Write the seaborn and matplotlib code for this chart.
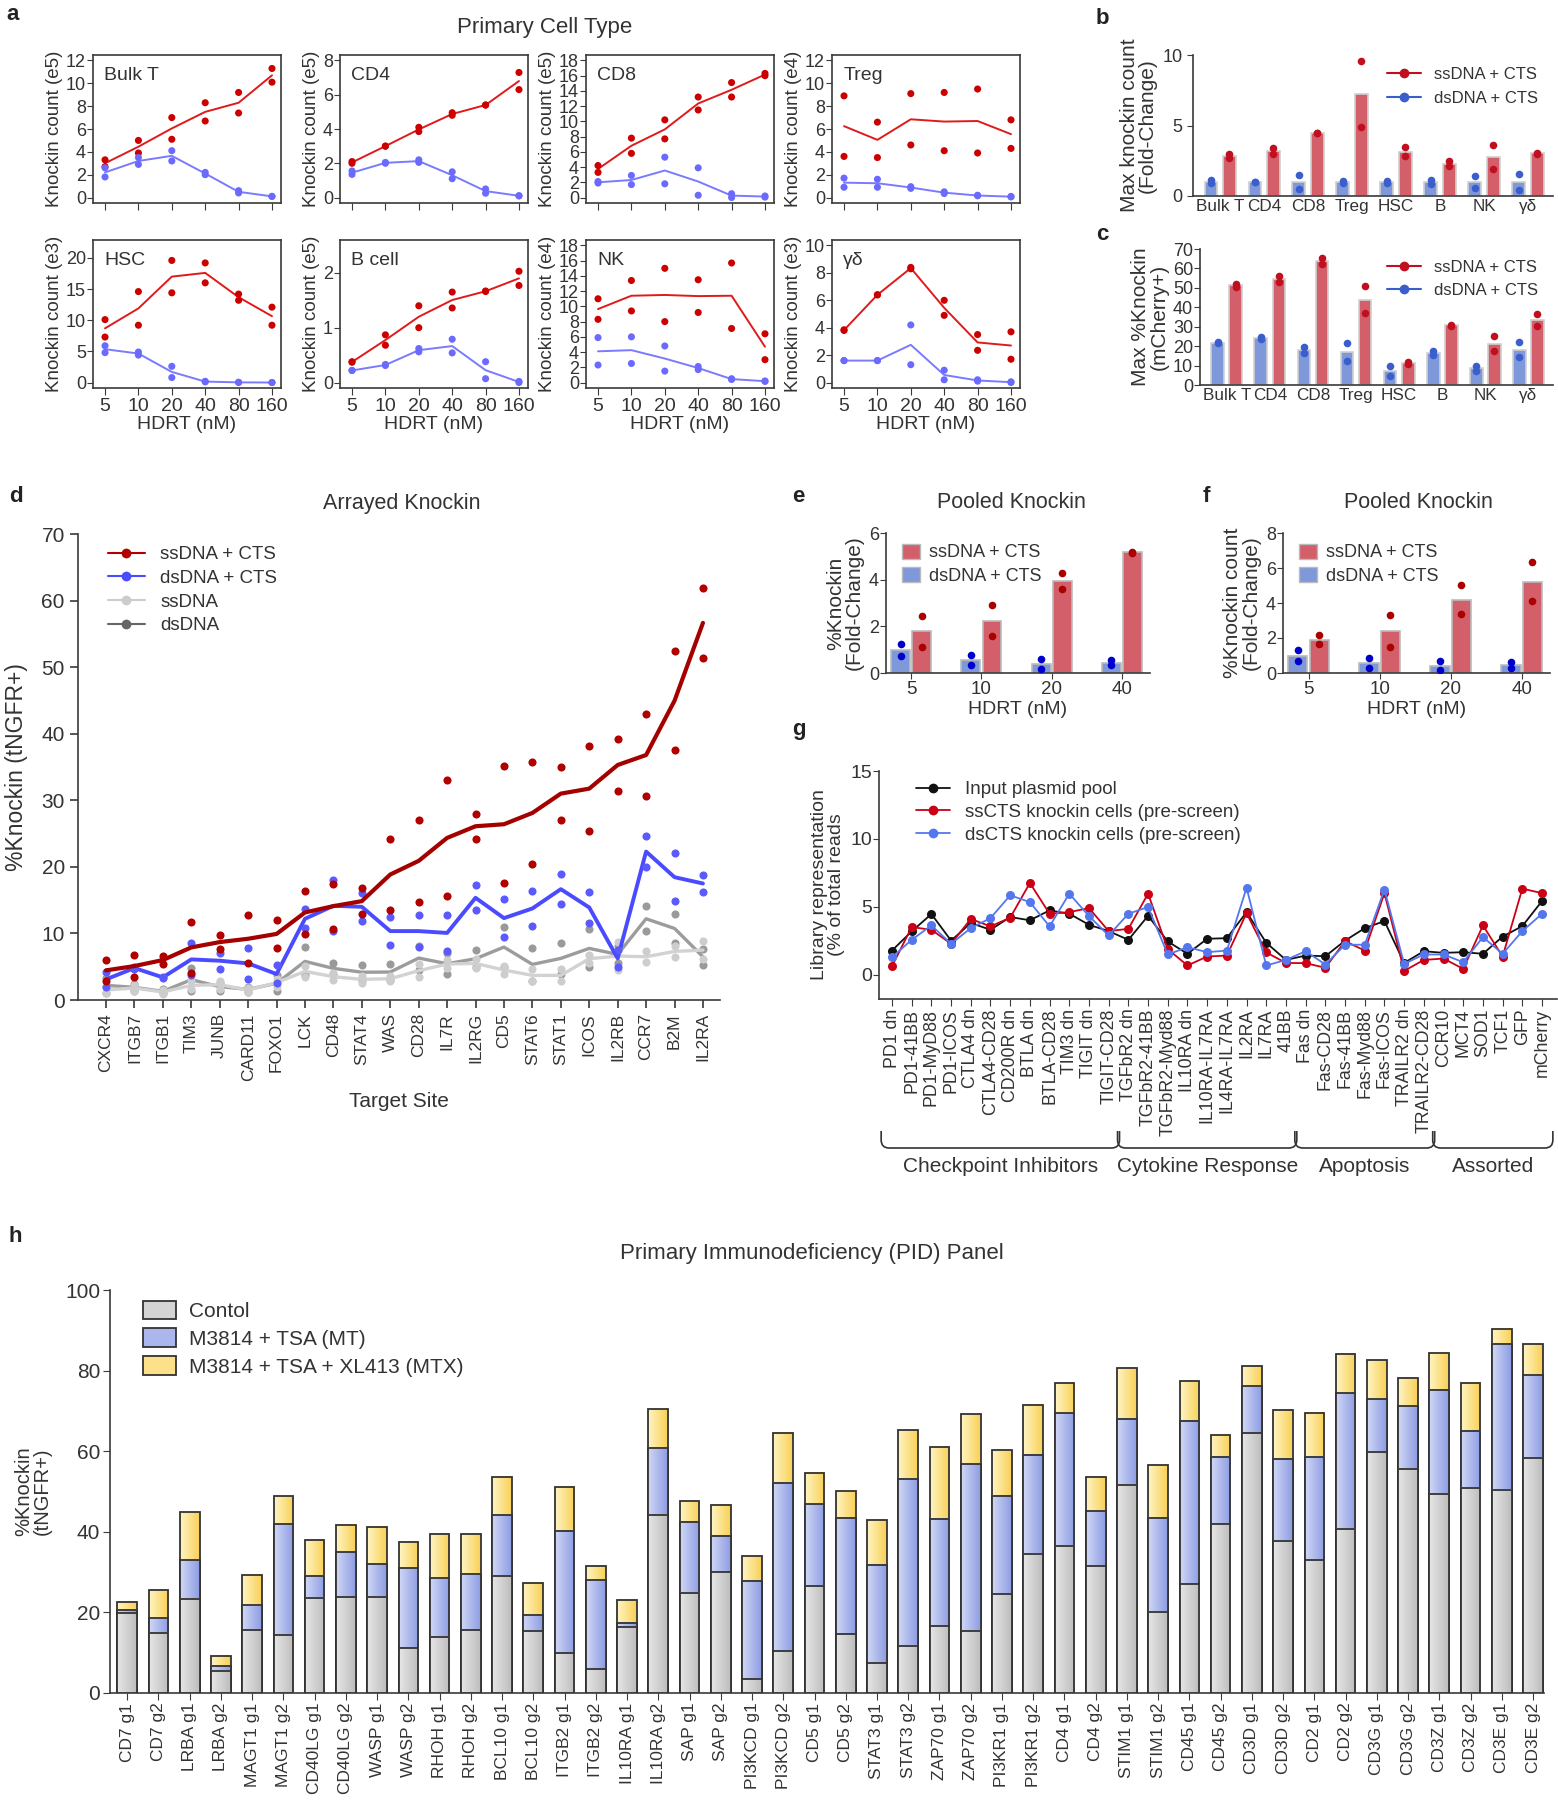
import numpy as np
import pandas as pd
import seaborn as sns
import matplotlib.pyplot as plt
from matplotlib import font_manager
from matplotlib.colors import LinearSegmentedColormap
from matplotlib.lines import Line2D
from matplotlib.patches import Patch, PathPatch
from matplotlib.path import Path

# ---------------- data ----------------
# a: knockin count vs HDRT dose, two replicates per dose
hdrt = ['5', '10', '20', '40', '80', '160']
cell_types = ['Bulk T', 'CD4', 'CD8', 'Treg', 'HSC', 'B cell', 'NK', 'γδ']
count_exp = ['e5', 'e5', 'e5', 'e4', 'e3', 'e5', 'e4', 'e3']
count_max = [12, 8, 18, 12, 22, 2.5, 18, 10]
count_step = [2, 2, 2, 2, 5, 1, 2, 2]
a_ss_r1 = [[3.3, 5.0, 7.0, 8.3, 9.2, 11.3],
           [2.1, 3.0, 4.1, 4.95, 5.4, 7.3],
           [4.2, 7.8, 10.2, 13.2, 15.1, 16.3],
           [8.9, 6.6, 9.1, 9.2, 9.5, 6.8],
           [10.1, 14.6, 19.6, 19.2, 14.2, 12.1],
           [0.38, 0.87, 1.4, 1.65, 1.67, 2.03],
           [11.0, 13.4, 15.0, 13.5, 15.7, 6.4],
           [3.85, 6.4, 8.4, 6.0, 3.5, 3.7]]
a_ss_r2 = [[2.7, 3.9, 5.1, 6.7, 7.4, 10.1],
           [2.0, 3.0, 3.85, 4.8, 5.4, 6.3],
           [3.3, 5.8, 7.7, 11.5, 13.2, 16.0],
           [3.6, 3.5, 4.6, 4.1, 3.9, 4.3],
           [7.3, 9.2, 14.4, 16.0, 13.2, 9.2],
           [0.37, 0.68, 1.0, 1.36, 1.66, 1.77],
           [8.3, 9.4, 8.0, 9.2, 7.1, 3.0],
           [3.8, 6.4, 8.3, 4.9, 2.35, 1.7]]
a_ds_r1 = [[2.6, 3.5, 4.1, 2.2, 0.6, 0.1],
           [1.55, 2.0, 2.2, 1.5, 0.5, 0.1],
           [2.1, 2.9, 5.3, 3.9, 0.5, 0.2],
           [1.7, 1.6, 0.95, 0.5, 0.2, 0.1],
           [5.9, 4.9, 2.6, 0.2, 0.05, 0.0],
           [0.22, 0.33, 0.62, 0.79, 0.38, 0.02],
           [5.9, 6.0, 4.8, 2.1, 0.5, 0.2],
           [1.6, 1.6, 4.2, 0.9, 0.2, 0.05]]
a_ds_r2 = [[1.8, 2.9, 3.2, 2.0, 0.4, 0.1],
           [1.35, 2.05, 2.05, 1.1, 0.25, 0.1],
           [1.9, 1.7, 1.8, 0.3, 0.0, 0.05],
           [0.9, 0.9, 0.8, 0.35, 0.15, 0.05],
           [4.8, 4.4, 0.8, 0.1, 0.0, 0.0],
           [0.22, 0.31, 0.56, 0.54, 0.07, 0.0],
           [2.3, 2.5, 1.5, 1.7, 0.4, 0.15],
           [1.6, 1.6, 1.3, 0.2, 0.1, 0.0]]

# b, c: max fold-change / max %knockin per cell type
bc_cells = ['Bulk T', 'CD4', 'CD8', 'Treg', 'HSC', 'B', 'NK', 'γδ']
b_ds = [[1.1, 0.9], [1.0, 1.0], [1.5, 0.5], [1.05, 0.95], [1.05, 0.95], [1.15, 0.85], [1.45, 0.55], [1.55, 0.45]]
b_ss = [[3.0, 2.7], [3.4, 2.95], [4.5, 4.45], [9.6, 4.9], [3.45, 2.85], [2.45, 2.15], [3.6, 1.9], [3.05, 3.0]]
c_ds = [[22, 21.5], [24.5, 23.5], [19.5, 16.5], [21.5, 12.5], [10, 4.5], [17.5, 15.5], [10, 7], [22, 14.5]]
c_ss = [[52, 50.5], [56, 53], [65.5, 62.5], [51, 37], [12, 11], [31, 30.5], [25, 17.5], [36.5, 30.5]]

# d: arrayed knockin
d_targets = ['CXCR4', 'ITGB7', 'ITGB1', 'TIM3', 'JUNB', 'CARD11', 'FOXO1', 'LCK', 'CD48', 'STAT4', 'WAS',
             'CD28', 'IL7R', 'IL2RG', 'CD5', 'STAT6', 'STAT1', 'ICOS', 'IL2RB', 'CCR7', 'B2M', 'IL2RA']
d_ss_cts_r1 = [6.0, 6.8, 6.6, 11.7, 9.7, 12.8, 12.05, 16.4, 17.5, 16.8, 24.2, 27.1, 33.1, 28.0, 35.2, 35.7, 35.0, 38.1, 39.2, 43.0, 52.4, 61.9]
d_ss_cts_r2 = [2.9, 3.4, 5.4, 4.1, 7.7, 5.6, 7.8, 9.9, 10.7, 12.9, 13.5, 14.7, 15.6, 24.2, 17.6, 20.5, 27.0, 25.4, 31.4, 30.6, 37.5, 51.4]
d_ds_cts_r1 = [4.2, 5.0, 3.5, 8.5, 7.1, 7.8, 5.2, 13.6, 18.0, 16.1, 12.5, 12.7, 12.75, 17.2, 15.1, 16.4, 18.9, 16.2, 7.5, 24.6, 22.1, 18.8]
d_ds_cts_r2 = [2.0, 4.6, 3.3, 3.7, 4.7, 3.2, 2.6, 10.8, 10.3, 11.9, 8.2, 8.0, 7.4, 13.5, 9.5, 11.1, 14.4, 11.6, 5.0, 20.0, 14.8, 16.2]
d_ss_r1 = [2.0, 2.2, 1.5, 2.8, 2.9, 1.8, 3.2, 5.1, 4.0, 3.6, 3.6, 5.4, 6.0, 6.2, 5.1, 4.6, 4.6, 6.8, 8.7, 7.3, 8.1, 8.9]
d_ss_r2 = [1.0, 1.4, 0.9, 1.6, 1.7, 1.2, 2.0, 3.5, 3.0, 2.6, 2.8, 3.4, 4.8, 4.8, 3.9, 2.8, 2.8, 5.6, 4.5, 5.7, 6.5, 6.1]
d_ds_r1 = [3.3, 2.4, 1.6, 4.8, 2.6, 2.0, 3.7, 7.9, 5.6, 5.3, 5.4, 8.1, 7.0, 7.5, 11.0, 7.8, 8.6, 10.6, 8.1, 14.1, 12.9, 7.7]
d_ds_r2 = [1.1, 1.4, 1.0, 1.3, 1.4, 1.2, 1.3, 3.7, 3.9, 3.05, 3.0, 4.5, 3.9, 4.9, 4.9, 2.9, 3.9, 4.9, 5.6, 10.3, 8.6, 5.3]

# e, f: pooled knockin fold-change
ef_hdrt = ['5', '10', '20', '40']
e_ds = [[1.25, 0.75], [0.77, 0.33], [0.6, 0.18], [0.33, 0.55]]
e_ss = [[2.45, 1.12], [2.9, 1.6], [4.3, 3.6], [5.15, 5.2]]
f_ds = [[1.3, 0.68], [0.85, 0.28], [0.67, 0.17], [0.65, 0.27]]
f_ss = [[2.15, 1.65], [3.3, 1.5], [5.05, 3.35], [6.35, 4.1]]

# g: library representation
g_targets = ['PD1 dn', 'PD1-41BB', 'PD1-MyD88', 'PD1-ICOS', 'CTLA4 dn', 'CTLA4-CD28', 'CD200R dn', 'BTLA dn',
             'BTLA-CD28', 'TIM3 dn', 'TIGIT dn', 'TIGIT-CD28', 'TGFbR2 dn', 'TGFbR2-41BB', 'TGFbR2-Myd88',
             'IL10RA dn', 'IL10RA-IL7RA', 'IL4RA-IL7RA', 'IL2RA', 'IL7RA', '41BB', 'Fas dn', 'Fas-CD28',
             'Fas-41BB', 'Fas-Myd88', 'Fas-ICOS', 'TRAILR2 dn', 'TRAILR2-CD28', 'CCR10', 'MCT4', 'SOD1',
             'TCF1', 'GFP', 'mCherry']
g_groups = ['Checkpoint Inhibitors', 'Cytokine Response', 'Apoptosis', 'Assorted']
g_group_sizes = [12, 9, 7, 6]
g_input = [1.77, 3.18, 4.46, 2.5, 3.8, 3.3, 4.24, 4.0, 4.73, 4.48, 3.67, 3.2, 2.56, 4.33, 2.44, 1.53, 2.64,
           2.68, 4.6, 2.34, 1.08, 1.4, 1.35, 2.5, 3.42, 3.94, 0.86, 1.72, 1.6, 1.65, 1.53, 2.8, 3.57, 5.42]
g_ss = [0.62, 3.5, 3.3, 2.27, 4.1, 3.55, 4.19, 6.75, 4.48, 4.6, 4.9, 3.2, 3.37, 5.96, 1.87, 0.67, 1.33,
        1.4, 4.53, 1.63, 0.86, 0.84, 0.5, 2.46, 1.77, 6.0, 0.27, 1.08, 1.18, 0.42, 3.62, 1.33, 6.33, 6.0]
g_ds = [1.28, 2.56, 3.62, 2.27, 3.42, 4.16, 5.84, 5.34, 3.55, 5.96, 4.31, 2.88, 4.48, 4.98, 1.48, 2.02, 1.65,
        1.77, 6.4, 0.67, 1.08, 1.72, 0.74, 2.2, 2.2, 6.26, 0.79, 1.48, 1.48, 0.91, 2.76, 1.53, 3.2, 4.48]

# h: PID panel
h_guides = ['CD7 g1', 'CD7 g2', 'LRBA g1', 'LRBA g2', 'MAGT1 g1', 'MAGT1 g2', 'CD40LG g1', 'CD40LG g2',
            'WASP g1', 'WASP g2', 'RHOH g1', 'RHOH g2', 'BCL10 g1', 'BCL10 g2', 'ITGB2 g1', 'ITGB2 g2',
            'IL10RA g1', 'IL10RA g2', 'SAP g1', 'SAP g2', 'PI3KCD g1', 'PI3KCD g2', 'CD5 g1', 'CD5 g2',
            'STAT3 g1', 'STAT3 g2', 'ZAP70 g1', 'ZAP70 g2', 'PI3KR1 g1', 'PI3KR1 g2', 'CD4 g1', 'CD4 g2',
            'STIM1 g1', 'STIM1 g2', 'CD45 g1', 'CD45 g2', 'CD3D g1', 'CD3D g2', 'CD2 g1', 'CD2 g2',
            'CD3G g1', 'CD3G g2', 'CD3Z g1', 'CD3Z g2', 'CD3E g1', 'CD3E g2']
h_ctrl = [19.8, 14.9, 23.4, 5.5, 15.6, 14.5, 23.6, 23.8, 23.9, 11.1, 14.0, 15.6, 29.1, 15.3, 9.9, 5.9,
          16.3, 44.2, 24.9, 30.0, 3.4, 10.3, 26.6, 14.6, 7.4, 11.7, 16.6, 15.4, 24.5, 34.6, 36.6, 31.4,
          51.7, 20.1, 27.0, 41.9, 64.5, 37.8, 32.9, 40.8, 59.9, 55.6, 49.5, 50.9, 50.4, 58.4]
h_mt = [20.6, 18.6, 32.9, 6.7, 21.8, 41.9, 29.1, 34.9, 32.0, 30.9, 28.5, 29.6, 44.1, 19.3, 40.3, 28.0,
        17.4, 60.8, 42.5, 39.0, 27.9, 52.2, 46.8, 43.5, 31.8, 53.2, 43.3, 56.8, 49.0, 59.1, 69.4, 45.1,
        68.0, 43.5, 67.5, 58.6, 76.1, 58.1, 58.6, 74.4, 72.9, 71.2, 75.3, 65.1, 86.7, 78.8]
h_mtx = [22.7, 25.6, 44.8, 9.2, 29.4, 48.8, 38.0, 41.6, 41.2, 37.5, 39.5, 39.5, 53.6, 27.4, 51.2, 31.6,
         23.2, 70.4, 47.6, 46.7, 33.9, 64.6, 54.7, 50.1, 43.0, 65.2, 61.1, 69.2, 60.2, 71.5, 76.9, 53.6,
         80.7, 56.5, 77.4, 64.1, 81.2, 70.3, 69.5, 84.2, 82.6, 78.2, 84.3, 77.0, 90.4, 86.7]

# ---------------- style ----------------
sns.set_style('ticks')
plt.rcParams['font.family'] = ['Liberation Sans', 'DejaVu Sans']
plt.rcParams['axes.edgecolor'] = '#3a3a3a'
plt.rcParams['axes.linewidth'] = 1.2
plt.rcParams['xtick.color'] = '#3a3a3a'
plt.rcParams['ytick.color'] = '#3a3a3a'
plt.rcParams['text.color'] = '#333333'
plt.rcParams['axes.labelcolor'] = '#333333'
plt.rcParams['xtick.labelcolor'] = '#333333'
plt.rcParams['ytick.labelcolor'] = '#333333'

installed = {f.name for f in font_manager.fontManager.ttflist}
NARROW = 'Liberation Sans Narrow' if 'Liberation Sans Narrow' in installed else 'Liberation Sans'

W, H = 1558, 1800
fig = plt.figure(figsize=(W / 100, H / 100), dpi=100)


def px_axes(left, top, right, bottom):
    return fig.add_axes([left / W, 1 - bottom / H, (right - left) / W, (bottom - top) / H])


BAR_BLUE, BAR_RED = '#7f98da', '#d35f6a'

# ---------------- a ----------------
a_lefts = [93, 340, 586, 832]
a_rows = [(55, 203), (240, 388)]
for i, name in enumerate(cell_types):
    top, bottom = a_rows[i // 4]
    left = a_lefts[i % 4]
    ax = px_axes(left, top, left + 188, bottom)
    reps = [('ss', a_ss_r1[i]), ('ss', a_ss_r2[i]), ('ds', a_ds_r1[i]), ('ds', a_ds_r2[i])]
    df = pd.DataFrame([(k, j, v) for k, vals in reps for j, v in enumerate(vals)],
                      columns=['kind', 'pos', 'val'])
    sns.lineplot(data=df, x='pos', y='val', hue='kind', palette={'ss': '#e01a1a', 'ds': '#7a7aff'},
                 estimator='mean', errorbar=None, legend=False, lw=1.4, ax=ax)
    sns.scatterplot(data=df, x='pos', y='val', hue='kind', palette={'ss': '#cc0000', 'ds': '#6a6aff'},
                    s=26, linewidth=0, legend=False, ax=ax, zorder=3)
    ymax = count_max[i]
    ax.set_ylim(-0.04 * ymax, 1.04 * ymax)
    ax.set_yticks(np.arange(0, ymax + 1e-9, count_step[i]))
    ax.set_xlim(-0.36, 5.27)
    ax.set_xticks(range(6))
    if i // 4 == 1:
        ax.set_xticklabels(hdrt)
        ax.set_xlabel('HDRT (nM)', fontsize=14, labelpad=1)
    else:
        ax.set_xticklabels([])
        ax.set_xlabel('')
    ax.set_ylabel(f'Knockin count ({count_exp[i]})', fontsize=13.5, labelpad=2)
    ax.tick_params(axis='y', labelsize=13, length=4, pad=1)
    ax.tick_params(axis='x', labelsize=14, length=5, pad=2)
    ax.text(0.06, 0.92, name, transform=ax.transAxes, fontsize=14, va='top', ha='left')


# ---------------- helpers for dodged bars ----------------
def dodge_bars(ax, cats, ds_reps, ss_reps, width, gap, dot_blue, dot_red, dot_size, edge):
    rows = []
    for c, ds, ss in zip(cats, ds_reps, ss_reps):
        rows += [(c, 'dsDNA + CTS', v) for v in ds]
        rows += [(c, 'ssDNA + CTS', v) for v in ss]
    df = pd.DataFrame(rows, columns=['cat', 'kind', 'val'])
    sns.barplot(data=df, x='cat', y='val', hue='kind', order=cats,
                hue_order=['dsDNA + CTS', 'ssDNA + CTS'], palette=[BAR_BLUE, BAR_RED],
                width=width, gap=gap, errorbar=None, saturation=1, edgecolor=edge,
                linewidth=1.2, legend=False, ax=ax)
    off = width / 4
    pos = {c: k for k, c in enumerate(cats)}
    for sign, kind, col in [(-1, 'dsDNA + CTS', dot_blue), (1, 'ssDNA + CTS', dot_red)]:
        sub = df[df['kind'] == kind]
        ax.scatter(sub['cat'].map(pos) + sign * off, sub['val'], s=dot_size, color=col,
                   zorder=4, linewidths=0)
    ax.set_xlabel('')
    sns.despine(ax=ax)


line_handles = [Line2D([], [], color='#c01020', marker='o', lw=1.5, ms=6),
                Line2D([], [], color='#3a5fcd', marker='o', lw=1.5, ms=6)]

# ---------------- b ----------------
ax = px_axes(1193, 55, 1553, 196)
dodge_bars(ax, bc_cells, b_ds, b_ss, 0.84, 0.3, '#3a5fcd', '#c01020', 30, '#d0d0d0')
ax.set_xlim(-0.62, 7.57)
ax.set_ylim(0, 10)
ax.set_yticks([0, 5, 10])
ax.set_ylabel('Max knockin count\n(Fold-Change)', fontsize=15, linespacing=0.95, labelpad=4)
ax.tick_params(axis='x', length=0, labelsize=12.3, pad=2)
ax.tick_params(axis='y', length=4, labelsize=13)
ax.legend(line_handles, ['ssDNA + CTS', 'dsDNA + CTS'], loc='upper right', bbox_to_anchor=(1.0, 1.02),
          frameon=False, fontsize=12, handlelength=2.0, labelspacing=0.5)

# ---------------- c ----------------
ax = px_axes(1200, 249, 1553, 385)
dodge_bars(ax, bc_cells, c_ds, c_ss, 0.84, 0.3, '#3a5fcd', '#c01020', 30, '#d0d0d0')
ax.set_xlim(-0.62, 7.57)
ax.set_ylim(0, 70)
ax.set_yticks(range(0, 71, 10))
ax.set_ylabel('Max %Knockin\n(mCherry+)', fontsize=15, linespacing=0.95, labelpad=3)
ax.tick_params(axis='x', length=0, labelsize=12.3, pad=2)
ax.tick_params(axis='y', length=4, labelsize=13, pad=1)
ax.legend(line_handles, ['ssDNA + CTS', 'dsDNA + CTS'], loc='upper right', bbox_to_anchor=(1.0, 1.03),
          frameon=False, fontsize=12, handlelength=2.0, labelspacing=0.5)

# ---------------- d ----------------
ax = px_axes(78, 534, 720, 1000)
d_series = [('dsDNA', d_ds_r1, d_ds_r2, '#9c9c9c', '#9a9a9a', 2.4),
            ('ssDNA', d_ss_r1, d_ss_r2, '#d2d2d2', '#cdcdcd', 2.4),
            ('dsDNA + CTS', d_ds_cts_r1, d_ds_cts_r2, '#4a4aff', '#5a5aff', 2.8),
            ('ssDNA + CTS', d_ss_cts_r1, d_ss_cts_r2, '#a50000', '#b00000', 3.0)]
for z, (label, r1, r2, lc, pc, lw) in enumerate(d_series):
    df = pd.DataFrame({'pos': list(range(len(d_targets))) * 2, 'val': r1 + r2})
    sns.lineplot(data=df, x='pos', y='val', estimator='mean', errorbar=None, color=lc, lw=lw,
                 ax=ax, zorder=2 + z)
    sns.scatterplot(data=df, x='pos', y='val', color=pc, s=34, linewidth=0, ax=ax, zorder=2 + z)
ax.set_xlim(-0.985, 21.6)
ax.set_ylim(0, 70)
ax.set_xticks(range(len(d_targets)))
ax.set_xticklabels(d_targets, rotation=90)
ax.set_yticks(range(0, 71, 10))
ax.tick_params(axis='y', labelsize=15, length=6, width=1.2)
ax.tick_params(axis='x', labelsize=12.5, length=6, width=1.2)
ax.set_xlabel('Target Site', fontsize=15, labelpad=8)
ax.set_ylabel('%Knockin (tNGFR+)', fontsize=16.5, labelpad=10)
sns.despine(ax=ax)
d_handles = [Line2D([], [], color='#b00000', marker='o', lw=1.5, ms=6),
             Line2D([], [], color='#4a4aff', marker='o', lw=1.5, ms=6),
             Line2D([], [], color='#cccccc', marker='o', lw=1.5, ms=6),
             Line2D([], [], color='#666666', marker='o', lw=1.5, ms=6)]
ax.legend(d_handles, ['ssDNA + CTS', 'dsDNA + CTS', 'ssDNA', 'dsDNA'], loc='upper left',
          bbox_to_anchor=(0.02, 1.01), frameon=False, fontsize=13.5, handlelength=2.0,
          labelspacing=0.35)

# ---------------- e, f ----------------
sq_handles = [Patch(facecolor=BAR_RED, edgecolor='#bbbbbb'), Patch(facecolor=BAR_BLUE, edgecolor='#bbbbbb')]
for (l, r), ds, ss, ymax, ylab in [((886, 1150), e_ds, e_ss, 6, '%Knockin\n(Fold-Change)'),
                                   ((1283, 1550), f_ds, f_ss, 8, '%Knockin count\n(Fold-Change)')]:
    ax = px_axes(l, 533, r, 673)
    dodge_bars(ax, ef_hdrt, ds, ss, 0.6, 0.1, '#0000cc', '#aa0000', 30, '#bbbbbb')
    ax.set_xlim(-0.36, 3.4)
    ax.set_ylim(0, ymax)
    ax.set_yticks(range(0, ymax + 1, 2))
    ax.set_xlabel('HDRT (nM)', fontsize=14, labelpad=2)
    ax.set_ylabel(ylab, fontsize=15, linespacing=0.95, labelpad=4)
    ax.tick_params(axis='x', length=4, labelsize=13.5, pad=2)
    ax.tick_params(axis='y', length=4, labelsize=13, pad=1)
    ax.legend(sq_handles, ['ssDNA + CTS', 'dsDNA + CTS'], loc='upper left', bbox_to_anchor=(0.0, 1.04),
              frameon=False, fontsize=13, handlelength=1.0, handleheight=0.9, labelspacing=0.3,
              handletextpad=0.5)

# ---------------- g ----------------
ax = px_axes(879, 771, 1557, 999)
gx = list(range(len(g_targets)))
for vals, col in [(g_input, '#111111'), (g_ss, '#cc0015'), (g_ds, '#5577ee')]:
    sns.lineplot(x=gx, y=vals, color=col, lw=1.3, marker='o', markersize=6.5, markeredgewidth=0, ax=ax)
g_xlim = (-0.66, 33.76)
ax.set_xlim(*g_xlim)
ax.set_ylim(-1.8, 15)
ax.set_yticks([0, 5, 10, 15])
ax.set_xticks(gx)
ax.set_xticklabels(g_targets, rotation=90)
ax.tick_params(axis='x', labelsize=12.8, length=5, pad=2)
ax.tick_params(axis='y', length=4, pad=1)
for t in ax.get_yticklabels():
    t.set_fontfamily(NARROW)
    t.set_fontsize(14)
ax.set_ylabel('Library representation\n(% of total reads', fontsize=14, linespacing=0.95, labelpad=4)
sns.despine(ax=ax)
g_handles = [Line2D([], [], color='#111111', marker='o', lw=1.3, ms=6),
             Line2D([], [], color='#cc0015', marker='o', lw=1.3, ms=6),
             Line2D([], [], color='#5577ee', marker='o', lw=1.3, ms=6)]
ax.legend(g_handles, ['Input plasmid pool', 'ssCTS knockin cells (pre-screen)', 'dsCTS knockin cells (pre-screen)'],
          loc='upper left', bbox_to_anchor=(0.03, 1.03), frameon=False, handlelength=1.8, labelspacing=0.3,
          prop={'family': NARROW, 'size': 13.5})

# ---------------- h ----------------
ax = px_axes(110, 1290, 1544, 1693)
h_layers = [(h_mtx, '#fde08a', '#fff4c4', '#f8d055'),
            (h_mt, '#aab6ec', '#d0d7f6', '#8d9de2'),
            (h_ctrl, '#cdcdcd', '#e6e6e6', '#bdbdbd')]
grad = np.linspace(0, 1, 64).reshape(1, -1)
for z, (vals, mid, light, dark) in enumerate(h_layers):
    n0 = len(ax.patches)
    sns.barplot(x=h_guides, y=vals, order=h_guides, color=mid, saturation=1, width=0.63,
                edgecolor='#333333', linewidth=1.3, errorbar=None, ax=ax)
    cmap = LinearSegmentedColormap.from_list('grad', [light, dark])
    for p in ax.patches[n0:]:
        # gradient image filling exactly the bar rectangle, bar outline kept on top
        x, y, w, hgt = p.get_x(), p.get_y(), p.get_width(), p.get_height()
        ax.imshow(grad, cmap=cmap, extent=[x, x + w, y, y + hgt], aspect='auto',
                  origin='lower', zorder=2 * z + 1, interpolation='bilinear')
        p.set_facecolor('none')
        p.set_zorder(2 * z + 1.5)
ax.set_yticks(range(0, 101, 20))
ax.set_xticks(range(len(h_guides)))
ax.set_xticklabels(h_guides, rotation=90)
ax.tick_params(axis='x', labelsize=12.5, length=5, pad=2)
ax.tick_params(axis='y', length=5, pad=2)
for t in ax.get_yticklabels():
    t.set_fontfamily(NARROW)
    t.set_fontsize(15)
ax.set_ylabel('%Knockin\n(tNGFR+)', fontsize=14.5, linespacing=0.95, labelpad=10)
sns.despine(ax=ax)
h_handles = [Patch(facecolor=c, edgecolor='#333333', linewidth=1.3) for c in ['#d4d4d4', '#aab6ec', '#fde08a']]
ax.legend(h_handles, ['Contol', 'M3814 + TSA (MT)', 'M3814 + TSA + XL413 (MTX)'], loc='upper left',
          bbox_to_anchor=(0.01, 1.02), frameon=False, handlelength=1.6, handleheight=1.0,
          labelspacing=0.35, handletextpad=0.6, prop={'family': NARROW, 'size': 15})
ax.set_aspect('auto')
ax.set_xlim(-0.55, len(h_guides) - 0.65)
ax.set_ylim(0, 100)

# ---------------- overlay: titles, panel letters, brackets ----------------
ov = fig.add_axes([0, 0, 1, 1], zorder=10)
ov.set_xlim(0, W)
ov.set_ylim(H, 0)
ov.axis('off')
ov.patch.set_alpha(0)

for letter, x, y in [('a', 6, 14), ('b', 1096, 18), ('c', 1096, 234), ('d', 9, 497), ('e', 792, 497),
                     ('f', 1203, 497), ('g', 792, 729), ('h', 9, 1236)]:
    ov.text(x, y, letter, fontsize=16, fontweight='bold', ha='left', va='center', color='#222222')

ov.text(545, 28, 'Primary Cell Type', fontsize=16, ha='center', va='center')
ov.text(402, 503, 'Arrayed Knockin', fontsize=15.5, ha='center', va='center')
ov.text(1011, 503, 'Pooled Knockin', fontsize=15.5, ha='center', va='center')
ov.text(1418, 503, 'Pooled Knockin', fontsize=15.5, ha='center', va='center')
ov.text(812, 1254, 'Primary Immunodeficiency (PID) Panel', fontsize=16, ha='center', va='center',
        family=NARROW)

# brackets under panel g groups
g_left, g_right = 879, 1557


def g_px(xv):
    return g_left + (xv - g_xlim[0]) / (g_xlim[1] - g_xlim[0]) * (g_right - g_left)


b_top, b_bot, rad = 1131, 1148, 8
start = 0
for name, size in zip(g_groups, g_group_sizes):
    x0 = g_px(start - 0.55)
    x1 = g_px(start + size - 1 + 0.55)
    verts = [(x0, b_top), (x0, b_bot - rad), (x0, b_bot), (x0 + rad, b_bot), (x1 - rad, b_bot),
             (x1, b_bot), (x1, b_bot - rad), (x1, b_top)]
    codes = [Path.MOVETO, Path.LINETO, Path.CURVE3, Path.CURVE3, Path.LINETO, Path.CURVE3,
             Path.CURVE3, Path.LINETO]
    ov.add_patch(PathPatch(Path(verts, codes), facecolor='none', edgecolor='#333333', lw=1.2))
    ov.text((x0 + x1) / 2, 1167, name, fontsize=15, ha='center', va='center', family=NARROW)
    start += size

fig.savefig('out.png', dpi=100)
